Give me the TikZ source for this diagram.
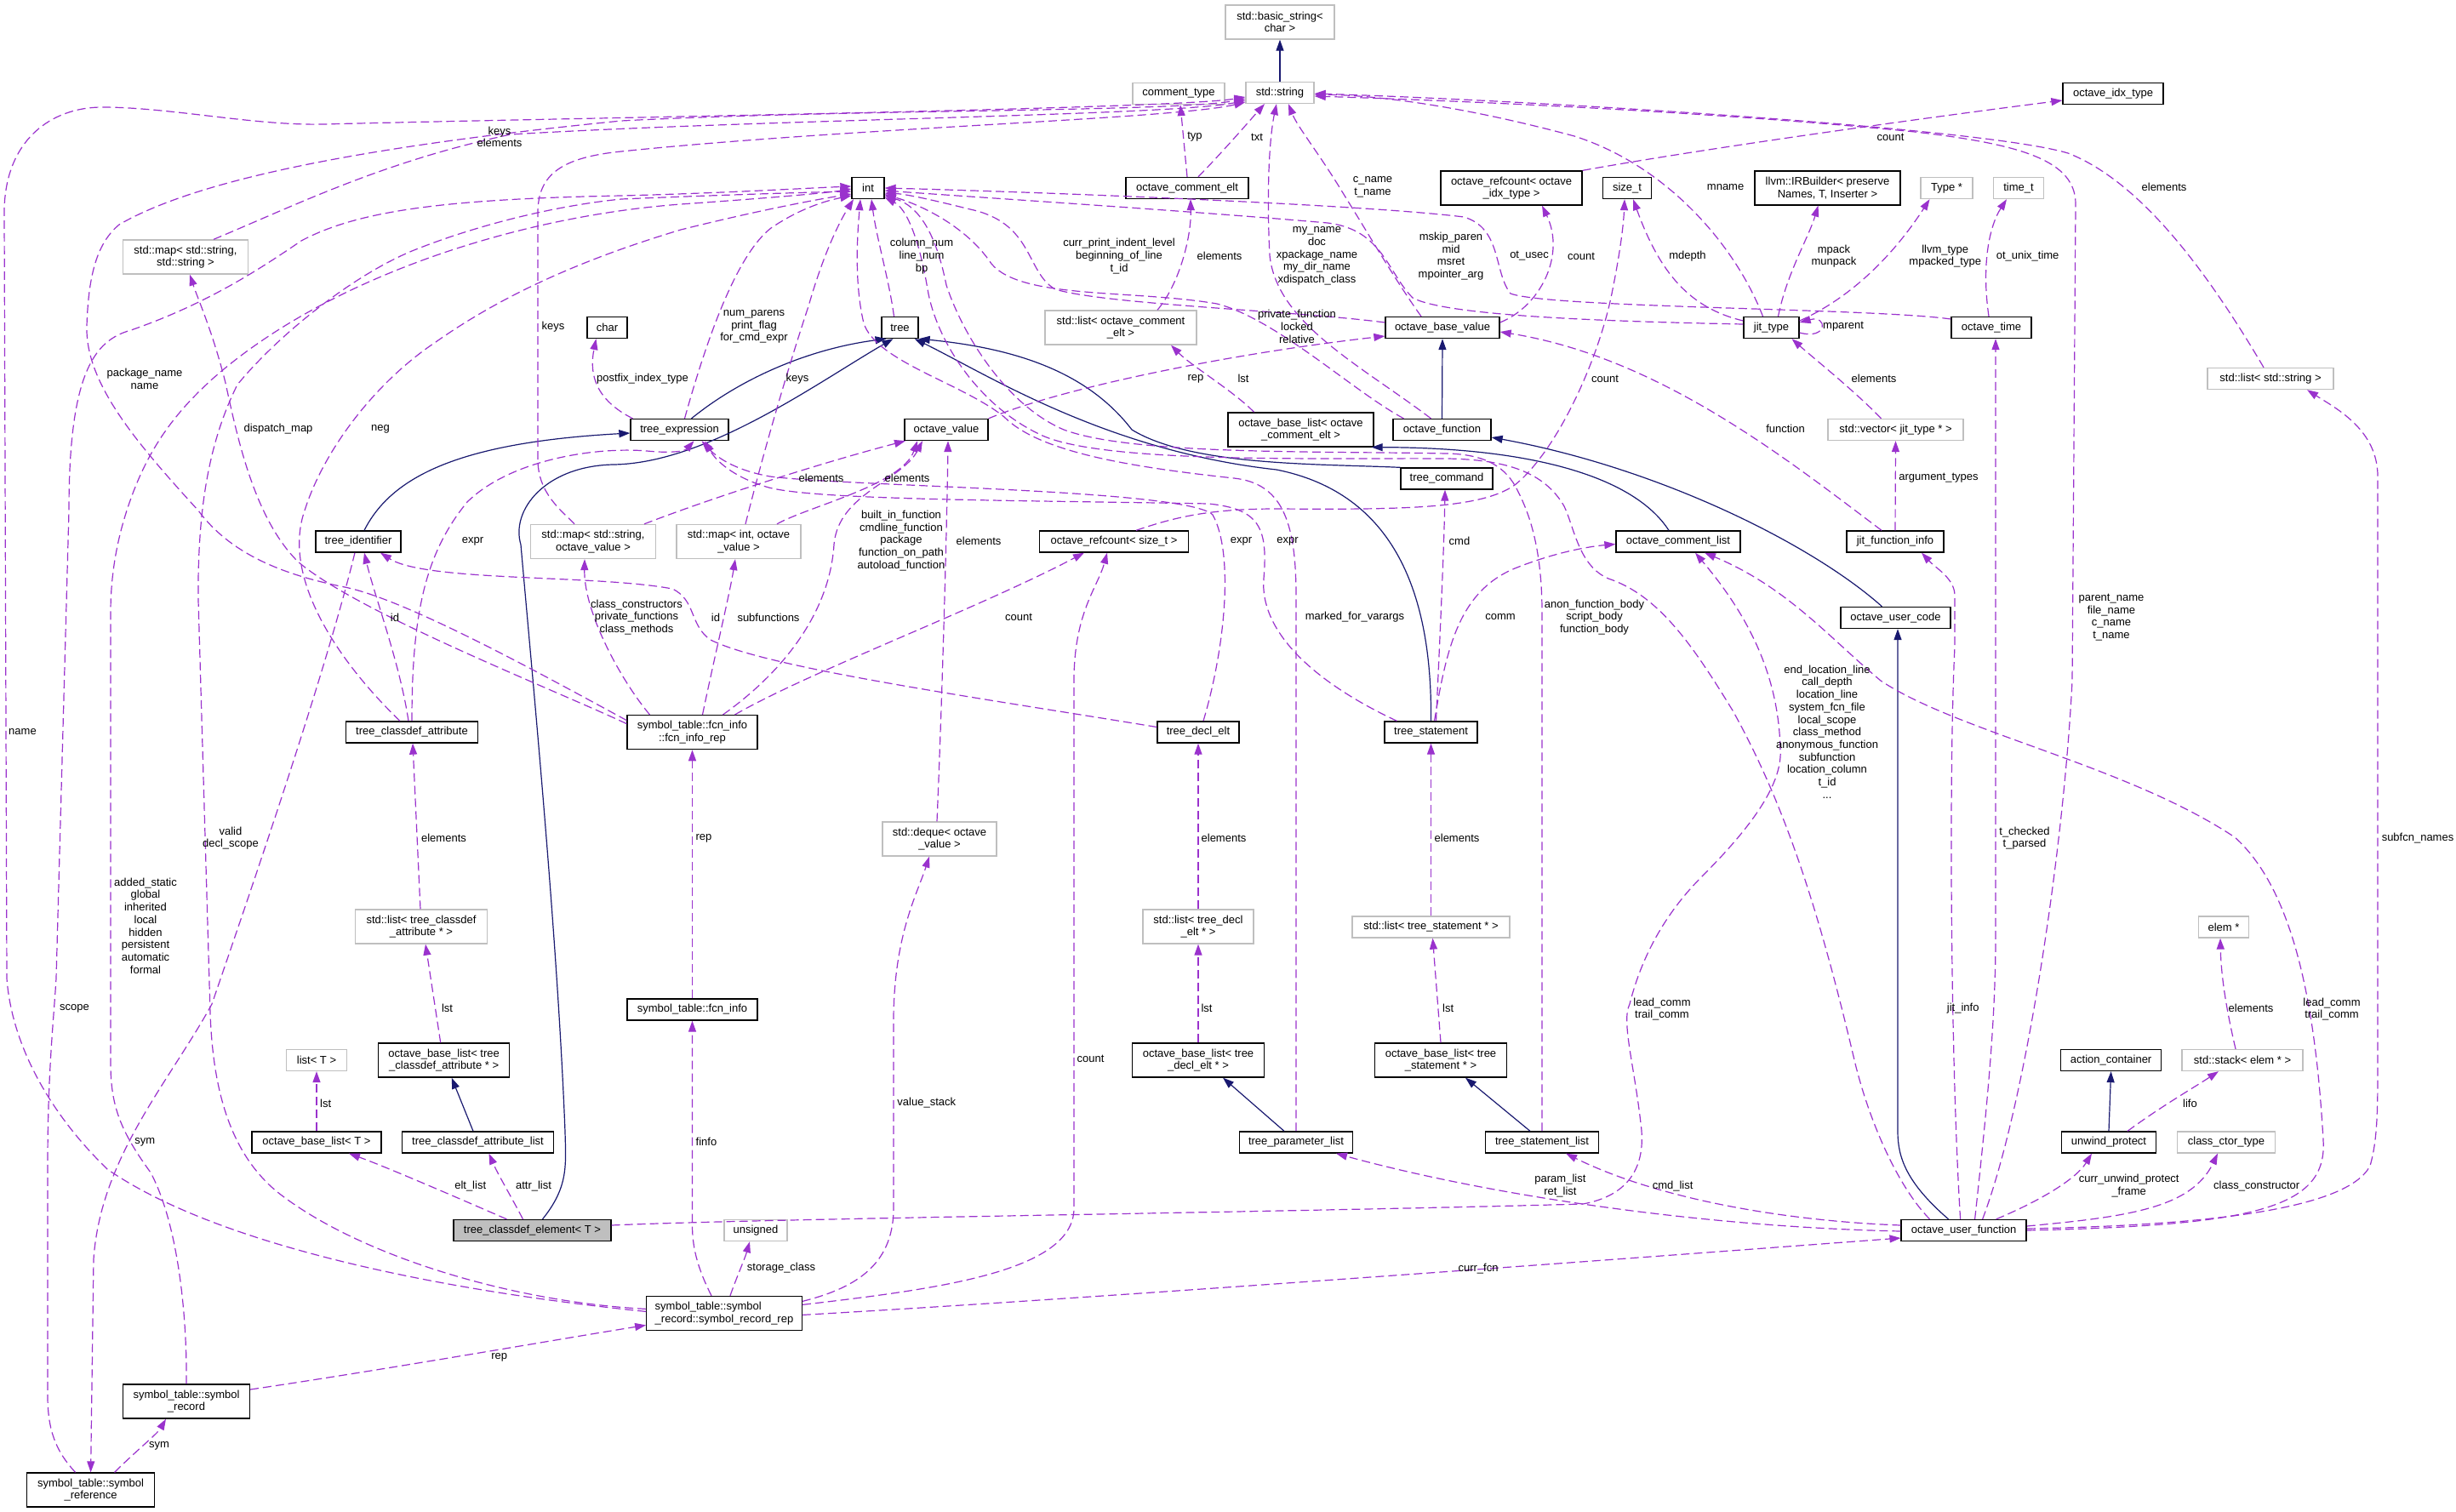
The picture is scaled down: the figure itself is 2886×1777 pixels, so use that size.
\documentclass[tikz,border=0pt]{standalone}
\usepackage{fontspec}
\setmainfont{Liberation Sans}
\usetikzlibrary{arrows.meta}
\definecolor{depc}{HTML}{9A32CD}
\definecolor{inhc}{HTML}{191970}
\definecolor{boxgray}{HTML}{BFBFBF}
\newcommand\dgfont{\fontsize{13}{14.7}\selectfont}
\tikzset{
  box/.style={draw=black, line width=1.3pt, rectangle, inner sep=0pt, minimum height=25pt, font=\dgfont, align=center, fill=white},
  gbox/.style={box, draw=boxgray},
  tall/.style={minimum height=40pt},
  dep/.style={draw=depc, line width=1.2pt, dash pattern=on 10pt off 5pt, -{Triangle[length=13pt,width=9pt]}},
  inh/.style={draw=inhc, line width=1.2pt, -{Triangle[length=13pt,width=9pt]}},
  lbl/.style={font=\dgfont, align=center, inner sep=0pt}
}
\begin{document}
\begin{tikzpicture}[x=1pt,y=-1pt]
\useasboundingbox[fill=white] (0,0) rectangle (2886,1777);
% ---------------- nodes ----------------
\node[gbox,tall,minimum width=128pt] (bstr) at (1504,26) {std::basic\_string<\\char >};
\node[gbox,minimum width=80pt] (str) at (1504,109) {std::string};
\node[gbox,minimum width=108pt] (ctype) at (1385,110) {comment\_type};
\node[box,minimum width=118pt] (oidx) at (2483,110) {octave\_idx\_type};
\node[gbox,tall,minimum width=147pt] (mapss) at (218,302) {std::map< std::string,\\std::string >};
\node[box,minimum width=38pt] (int) at (1020,221) {int};
\node[box,minimum width=144pt] (oce) at (1395,221) {octave\_comment\_elt};
\node[box,tall,minimum width=166pt] (orcidx) at (1776,221) {octave\_refcount< octave\\\_idx\_type >};
\node[box,minimum width=57pt] (sizet) at (1912,221) {size\_t};
\node[box,tall,minimum width=171pt] (llvm) at (2147.5,221) {llvm::IRBuilder< preserve\\Names, T, Inserter >};
\node[gbox,minimum width=61pt] (typep) at (2287.5,221) {Type *};
\node[gbox,minimum width=59pt] (timet) at (2372,221) {time\_t};
\node[box,minimum width=47pt] (char) at (713.5,385) {char};
\node[box,minimum width=43pt] (tree) at (1057.5,385) {tree};
\node[gbox,tall,minimum width=178pt] (lsoce) at (1317,385) {std::list< octave\_comment\\\_elt >};
\node[box,minimum width=134pt] (obv) at (1695,385) {octave\_base\_value};
\node[box,minimum width=65pt] (jit) at (2081.5,385) {jit\_type};
\node[box,minimum width=94pt] (otime) at (2340,385) {octave\_time};
\node[gbox,minimum width=148pt] (lsstr) at (2668,445) {std::list< std::string >};
\node[box,minimum width=115pt] (texpr) at (798.5,505) {tree\_expression};
\node[box,minimum width=98pt] (oval) at (1112,505) {octave\_value};
\node[box,tall,minimum width=171pt] (oblce) at (1528.5,505) {octave\_base\_list< octave\\\_comment\_elt >};
\node[box,minimum width=115pt] (ofun) at (1694.5,505) {octave\_function};
\node[gbox,minimum width=159pt] (vecjit) at (2227.5,505) {std::vector< jit\_type * >};
\node[box,minimum width=108pt] (tcmd) at (1700,562.5) {tree\_command};
\node[box,minimum width=100pt] (tid) at (421,636.5) {tree\_identifier};
\node[gbox,tall,minimum width=147pt] (mapsov) at (697,636.5) {std::map< std::string,\\octave\_value >};
\node[gbox,tall,minimum width=146pt] (mapiov) at (868,636.5) {std::map< int, octave\\\_value >};
\node[box,minimum width=175pt] (orcsz) at (1309,636.5) {octave\_refcount< size\_t >};
\node[box,minimum width=146pt] (ocl) at (1972,636.5) {octave\_comment\_list};
\node[box,minimum width=114pt] (jfi) at (2227,636.5) {jit\_function\_info};
\node[box,minimum width=129pt] (ouc) at (2227.5,726) {octave\_user\_code};
\node[box,minimum width=155pt] (tca) at (484,860.5) {tree\_classdef\_attribute};
\node[box,tall,minimum width=153pt] (fir) at (813.5,860.6) {symbol\_table::fcn\_info\\::fcn\_info\_rep};
\node[box,minimum width=96pt] (tde) at (1408,860.5) {tree\_decl\_elt};
\node[box,minimum width=109pt] (tst) at (1681.5,860.5) {tree\_statement};
\node[gbox,tall,minimum width=134pt] (deq) at (1104,986) {std::deque< octave\\\_value >};
\node[gbox,tall,minimum width=155pt] (lstca) at (495,1089) {std::list< tree\_classdef\\\_attribute * >};
\node[gbox,tall,minimum width=130pt] (lstde) at (1408,1089) {std::list< tree\_decl\\\_elt * >};
\node[gbox,minimum width=185pt] (lstst) at (1681.5,1089.5) {std::list< tree\_statement * >};
\node[gbox,minimum width=59pt] (elem) at (2613,1089.5) {elem *};
\node[box,minimum width=153pt] (fi) at (813.5,1186.5) {symbol\_table::fcn\_info};
\node[gbox,minimum width=71pt] (listT) at (372,1246) {list< T >};
\node[box,tall,minimum width=154pt] (obltca) at (521.7,1246) {octave\_base\_list< tree\\\_classdef\_attribute * >};
\node[box,tall,minimum width=155pt] (oblde) at (1408,1246) {octave\_base\_list< tree\\\_decl\_elt * >};
\node[box,tall,minimum width=155pt] (oblst) at (1693,1246) {octave\_base\_list< tree\\\_statement * >};
\node[box,minimum width=118pt] (acont) at (2480.6,1246) {action\_container};
\node[gbox,minimum width=142pt] (stk) at (2635,1246) {std::stack< elem * >};
\node[box,minimum width=152pt] (oblT) at (372,1342.5) {octave\_base\_list< T >};
\node[box,minimum width=178pt] (tcal) at (561.5,1342.5) {tree\_classdef\_attribute\_list};
\node[box,minimum width=133pt] (tpl) at (1523,1342.5) {tree\_parameter\_list};
\node[box,minimum width=133pt] (tsl) at (1812,1342.5) {tree\_statement\_list};
\node[box,minimum width=111pt] (uwp) at (2478,1342.5) {unwind\_protect};
\node[gbox,minimum width=115pt] (cct) at (2616,1342.5) {class\_ctor\_type};
\node[box,minimum width=185pt,fill=boxgray] (tce) at (625.5,1446) {tree\_classdef\_element< T >};
\node[gbox,minimum width=74pt] (uns) at (888,1446) {unsigned};
\node[box,minimum width=147pt] (ouf) at (2307.6,1446) {octave\_user\_function};
\node[box,tall,minimum width=182.5pt,align=left] (srr) at (851,1543.4) {symbol\_table::symbol\\\_record::symbol\_record\_rep};
\node[box,tall,minimum width=149pt] (sr) at (219,1647) {symbol\_table::symbol\\\_record};
\node[box,tall,minimum width=150pt] (sref) at (106.6,1751) {symbol\_table::symbol\\\_reference};
% ---------------- inheritance ----------------
\draw[inh] (str.north) -- (bstr.south);
\draw[inh] ([xshift=14pt]texpr.north) .. controls (870,445) and (950,410) .. ([xshift=-16pt]tree.south);
\draw[inh] ([xshift=7pt]tid.north) .. controls (460,560) and (540,520) .. ([yshift=-4pt]texpr.west);
\draw[inh] ([xshift=12pt]tce.north) .. controls (668,1395) and (665,1370) .. (664,1330) .. controls (655,1100) and (626,800) .. (612,640) .. controls (600,600) and (640,548) .. (720,546) .. controls (830,545) and (960,450) .. ([xshift=-8pt]tree.south);
\draw[inh] (tcmd.north west) .. controls (1550,545) and (1400,548) .. (1330,505) .. controls (1280,440) and (1200,410) .. (tree.south east);
\draw[inh] (tst.north) .. controls (1683,700) and (1640,580) .. (1500,552) .. controls (1300,530) and (1160,440) .. ([xshift=-5pt]tree.south east);
\draw[inh] ([xshift=-5.5pt]tcal.north) -- ([xshift=9pt]obltca.south);
\draw[inh] ([xshift=-14pt]tpl.north) -- ([xshift=29pt]oblde.south);
\draw[inh] ([xshift=-14pt]tsl.north) -- ([xshift=29pt]oblst.south);
\draw[inh] (ofun.north) -- (obv.south);
\draw[inh] ([xshift=-16pt]ouc.north) .. controls (2130,640) and (1950,550) .. ([yshift=-9pt]ofun.east);
\draw[inh] ([xshift=-11pt]ocl.north) .. controls (1920,560) and (1800,526) .. ([xshift=-3pt]oblce.south east);
\draw[inh] ([xshift=-18pt]ouf.north) .. controls (2240,1390) and (2230,1360) .. (2230,1330) -- ([xshift=2.5pt]ouc.south);
\draw[inh] (uwp.north) -- (acont.south);
% ---------------- usage ----------------
\draw[dep] (oce.north) -- ([xshift=2pt]ctype.south);
\draw[dep] ([xshift=13pt]oce.north) .. controls (1440,175) and (1470,140) .. ([xshift=-18pt]str.south);
\draw[dep] ([xshift=43pt]lsoce.north) .. controls (1385,335) and (1400,280) .. ([xshift=4pt]oce.south);
\draw[dep] ([xshift=-55pt]oblce.north) .. controls (1450,460) and (1400,430) .. ([xshift=59pt]lsoce.south);
\draw[dep] (oval.north east) .. controls (1250,455) and (1450,415) .. ([yshift=-10pt]obv.west);
\draw[dep] ([xshift=-13pt]ofun.north) .. controls (1600,430) and (1500,380) .. (1492,300) .. controls (1488,220) and (1492,160) .. ([xshift=-4pt]str.south);
\draw[dep] ([xshift=-25pt]obv.north) .. controls (1640,330) and (1605,270) .. (1580,230) .. controls (1550,180) and (1525,150) .. ([xshift=10pt]str.south);
\draw[dep] ([yshift=6pt]obv.east) .. controls (1810,360) and (1840,300) .. ([xshift=36pt]orcidx.south);
\draw[dep] (orcidx.north east) .. controls (2000,175) and (2250,140) .. ([yshift=-8pt]oidx.west);
\draw[dep] ([xshift=-3pt]otime.north) .. controls (2328,310) and (2338,265) .. ([xshift=-14pt]timet.south);
\draw[dep] ([yshift=10pt]otime.west) .. controls (2200,362) and (1820,362) .. (1775,345) .. controls (1755,320) and (1765,268) .. (1720,255) .. controls (1600,240) and (1200,225) .. (int.east);
\draw[dep] ([yshift=4pt]jit.west) .. controls (1900,378) and (1700,372) .. (1660,350) .. controls (1630,320) and (1625,270) .. (1560,262) .. controls (1400,248) and (1150,232) .. ([yshift=-3pt]int.east);
\draw[dep] ([yshift=8pt]jit.west) .. controls (1985,362) and (1950,320) .. ([xshift=7pt]sizet.south);
\draw[dep] ([xshift=-10pt]jit.north) .. controls (2040,290) and (1960,195) .. (1850,160) .. controls (1720,125) and (1620,112) .. ([yshift=-2pt]str.east);
\draw[dep] ([xshift=8pt]jit.north) .. controls (2100,320) and (2125,280) .. ([xshift=-11pt]llvm.south);
\draw[dep] ([yshift=8pt]jit.east) .. controls (2175,350) and (2225,300) .. ([xshift=-20pt]typep.south);
\draw[dep] ([yshift=-6pt]jit.east) .. controls (2148,400) and (2148,370) .. ([yshift=6pt]jit.east);
\draw[dep] ([xshift=-17pt]vecjit.north) .. controls (2180,460) and (2130,420) .. ([xshift=24pt]jit.south);
\draw[dep] (jfi.north) -- (vecjit.south);
\draw[dep] ([xshift=-16pt]jfi.north) .. controls (2100,540) and (1950,420) .. ([yshift=-5pt]obv.east);
\draw[dep] ([xshift=-4pt]ouf.north) .. controls (2292,1250) and (2290,900) .. (2297,760) -- (2297,700) .. controls (2297,680) and (2275,668) .. ([xshift=31pt]jfi.south);
\draw[dep] ([xshift=13pt]ouf.north) .. controls (2335,1300) and (2345,1200) .. (2345,1100) -- ([xshift=5pt]otime.south);
\draw[dep] ([xshift=22pt]ouf.north) .. controls (2380,1300) and (2425,1000) .. (2435,800) -- (2439,240) .. controls (2439,190) and (2380,170) .. (2250,155) .. controls (2000,130) and (1700,118) .. ([yshift=-4pt]str.east);
\draw[dep] ([yshift=2pt]ouf.east) .. controls (2600,1440) and (2760,1420) .. (2785,1370) .. controls (2794,1340) and (2794,1300) .. (2794,1250) -- (2794,560) .. controls (2794,505) and (2745,480) .. ([xshift=43pt]lsstr.south);
\draw[dep] ([xshift=-8pt]lsstr.north) .. controls (2600,330) and (2520,215) .. (2430,180) .. controls (2330,150) and (1800,118) .. ([yshift=-1pt]str.east);
\draw[dep] ([xshift=22pt]uwp.north) .. controls (2540,1300) and (2575,1280) .. ([xshift=-28pt]stk.south);
\draw[dep] ([xshift=-8pt]stk.north) .. controls (2617,1190) and (2610,1150) .. ([xshift=-4pt]elem.south);
\draw[dep] ([xshift=38pt]ouf.north) .. controls (2400,1410) and (2440,1385) .. ([xshift=-20pt]uwp.south);
\draw[dep] ([yshift=5pt]ouf.east) .. controls (2500,1430) and (2575,1420) .. ([xshift=-10pt]cct.south);
\draw[dep] (ouf.east) .. controls (2650,1440) and (2735,1420) .. (2730,1340) .. controls (2722,1200) and (2700,1050) .. (2626,984) .. controls (2500,900) and (2300,860) .. (2210,800) .. controls (2150,750) and (2100,690) .. ([xshift=31pt]ocl.south);
\draw[dep] ([yshift=6pt]tce.east) .. controls (900,1432) and (1500,1425) .. (1860,1415) .. controls (1915,1405) and (1935,1370) .. (1928,1320) .. controls (1920,1250) and (1905,1200) .. (1915,1180) .. controls (1930,1120) and (1960,1070) .. (2000,1030) .. controls (2060,970) and (2095,920) .. (2092,880) .. controls (2090,800) and (2060,730) .. ([xshift=20pt]ocl.south);
\draw[dep] ([xshift=4pt]tst.north) .. controls (1700,760) and (1715,695) .. (1780,668) .. controls (1830,648) and (1870,642) .. ([yshift=-3pt]ocl.west);
\draw[dep] ([xshift=6pt]tst.north) .. controls (1692,750) and (1697,640) .. ([xshift=-2pt]tcmd.south);
\draw[dep] ([xshift=-40pt]tst.north) .. controls (1540,800) and (1480,740) .. (1485,680) .. controls (1490,620) and (1480,598) .. (1420,592) .. controls (1200,588) and (950,588) .. (900,572) .. controls (860,560) and (840,540) .. ([xshift=30pt]texpr.south);
\draw[dep] ([xshift=6pt]tde.north) .. controls (1440,760) and (1450,650) .. (1425,605) .. controls (1395,575) and (1000,572) .. (905,560) .. controls (860,552) and (840,535) .. ([xshift=26pt]texpr.south);
\draw[dep] ([yshift=6pt]tde.west) .. controls (1150,820) and (900,785) .. (835,752) .. controls (810,735) and (818,705) .. (790,692) .. controls (700,675) and (500,684) .. ([xshift=26pt]tid.south);
\draw[dep] (lstde.north) -- (tde.south);
\draw[dep] (oblde.north) -- (lstde.south);
\draw[dep] (lstst.north) -- (tst.south);
\draw[dep] (oblst.north) -- ([xshift=2pt]lstst.south);
\draw[dep] ([yshift=6pt]ouf.west) .. controls (2100,1435) and (1950,1410) .. ([xshift=28pt]tsl.south);
\draw[dep] ([yshift=-1pt]ouf.west) .. controls (2000,1442) and (1750,1405) .. ([xshift=47pt]tpl.south);
\draw[dep] (tpl.north) -- (1523,700) .. controls (1523,610) and (1505,568) .. (1450,562) .. controls (1320,548) and (1220,530) .. (1180,490) .. controls (1130,450) and (1030,425) .. (1015,380) .. controls (1003,330) and (1008,270) .. ([xshift=-9pt]int.south);
\draw[dep] (tsl.north) -- (1812,720) .. controls (1812,640) and (1795,600) .. (1784,578) .. controls (1770,548) and (1745,534) .. (1700,533) .. controls (1550,530) and (1330,535) .. (1250,505) .. controls (1180,475) and (1130,390) .. (1112,335) .. controls (1100,275) and (1080,242) .. ([yshift=-9pt]int.east);
\draw[dep] ([yshift=6pt]obv.west) .. controls (1520,365) and (1300,358) .. (1240,340) .. controls (1205,320) and (1215,262) .. (1140,246) .. controls (1100,236) and (1065,228) .. ([yshift=-6pt]int.east);
\draw[dep] ([xshift=-45pt]ofun.north) .. controls (1590,460) and (1500,375) .. (1430,357) .. controls (1330,340) and (1200,352) .. (1165,310) .. controls (1135,265) and (1080,240) .. ([yshift=-7.5pt]int.east);
\draw[dep] ([xshift=-40pt]ouf.north) .. controls (2235,1400) and (2200,1330) .. (2180,1250) .. controls (2140,1080) and (2100,950) .. (2036,835) .. controls (1990,760) and (1950,700) .. (1890,680) .. controls (1855,665) and (1850,620) .. (1838,595) .. controls (1815,555) and (1770,540) .. (1700,539) .. controls (1550,538) and (1300,545) .. (1225,512) .. controls (1150,478) and (1100,400) .. (1090,340) .. controls (1080,280) and (1065,245) .. ([yshift=-11pt]int.east);
\draw[dep] ([xshift=-7pt]tree.north) .. controls (1045,330) and (1030,280) .. ([xshift=4pt]int.south);
\draw[dep] ([xshift=6pt]texpr.north) .. controls (830,400) and (865,300) .. (906,268) .. controls (940,245) and (970,236) .. ([yshift=-9pt]int.west);
\draw[dep] ([xshift=-55pt]texpr.north) .. controls (700,470) and (692,440) .. ([xshift=-13pt]char.south);
\draw[dep] ([xshift=8pt]mapiov.north) .. controls (900,520) and (930,420) .. (950,360) .. controls (970,290) and (990,255) .. ([xshift=-17pt]int.south);
\draw[dep] ([xshift=-22pt]mapsov.north) .. controls (660,600) and (632,580) .. (632,540) -- (632,250) .. controls (632,205) and (660,185) .. (730,178) .. controls (1000,150) and (1380,140) .. ([yshift=-11pt]str.west);
\draw[dep] ([xshift=33pt]mapss.north) .. controls (350,240) and (450,190) .. (600,158) .. controls (900,140) and (1380,136) .. ([yshift=-9pt]str.west);
\draw[dep] ([yshift=2pt]srr.west) .. controls (500,1515) and (250,1460) .. (126,1374) .. controls (60,1310) and (14,1230) .. (8,1150) -- (5,250) .. controls (5,165) and (60,126) .. (120,126) .. controls (200,126) and (300,148) .. (380,146) .. controls (700,138) and (1380,128) .. ([yshift=-5pt]str.west);
\draw[dep] ([yshift=14pt]fir.west) .. controls (650,800) and (480,705) .. (405,690) .. controls (330,675) and (270,650) .. (233,600) .. controls (160,520) and (100,450) .. (102,383) .. controls (104,320) and (115,285) .. (140,264) .. controls (250,200) and (500,165) .. (730,142) .. controls (1000,128) and (1380,132) .. ([yshift=-7pt]str.west);
\draw[dep] ([yshift=10pt]fir.west) .. controls (650,810) and (420,720) .. (350,660) .. controls (300,610) and (280,520) .. (265,450) .. controls (250,390) and (232,350) .. ([xshift=5pt]mapss.south);
\draw[dep] ([xshift=-50pt]fir.north) .. controls (730,800) and (686,720) .. ([xshift=-10pt]mapsov.south);
\draw[dep] ([xshift=12pt]fir.north) .. controls (840,770) and (857,700) .. ([xshift=-4pt]mapiov.south);
\draw[dep] ([xshift=36pt]fir.north) .. controls (920,790) and (975,720) .. (980,640) .. controls (985,580) and (1060,565) .. ([xshift=-28pt]oval.south);
\draw[dep] ([xshift=60pt]mapsov.north) .. controls (850,580) and (980,540) .. ([xshift=-48pt]oval.south);
\draw[dep] ([xshift=45pt]mapiov.north) .. controls (950,595) and (1060,570) .. ([xshift=-34pt]oval.south);
\draw[dep] ([xshift=-3pt]deq.north) .. controls (1108,800) and (1113,600) .. ([xshift=2pt]oval.south);
\draw[dep] ([xshift=50pt]fir.north) .. controls (950,790) and (1150,715) .. ([xshift=-35pt]orcsz.south);
\draw[dep] ([xshift=26pt]orcsz.north) .. controls (1380,608) and (1420,598) .. (1500,598) .. controls (1650,599) and (1740,598) .. (1780,570) .. controls (1830,530) and (1880,420) .. (1895,340) .. controls (1905,290) and (1908,260) .. ([xshift=-3pt]sizet.south);
\draw[dep] ([yshift=10pt]srr.east) .. controls (1100,1515) and (1262,1495) .. (1262,1420) -- (1262,800) .. controls (1262,720) and (1290,690) .. ([xshift=-8pt]orcsz.south);
\draw[dep] ([yshift=14pt]srr.east) .. controls (1000,1515) and (1050,1490) .. (1050,1420) -- (1050,1200) .. controls (1050,1100) and (1078,1050) .. ([xshift=-12pt]deq.south);
\draw[dep] ([xshift=7pt]srr.north) .. controls (866,1500) and (875,1480) .. ([xshift=-7pt]uns.south);
\draw[dep] ([xshift=-15pt]srr.north) .. controls (822,1495) and (813.5,1470) .. (813.5,1440) -- (fi.south);
\draw[dep] (fi.north) -- (fir.south);
\draw[dep] ([yshift=-2pt]srr.east) .. controls (1300,1525) and (1900,1480) .. ([yshift=-9pt]ouf.west);
\draw[dep] ([yshift=14pt]sr.east) .. controls (450,1610) and (650,1575) .. ([yshift=-14pt]srr.west);
\draw[dep] ([xshift=28pt]sref.north) .. controls (160,1705) and (185,1685) .. ([xshift=-24pt]sr.south);
\draw[dep] ([xshift=-4pt]tid.south) .. controls (380,800) and (290,1060) .. (249,1180) .. controls (200,1270) and (118,1360) .. (110,1480) -- (sref.north);
\draw[dep] ([xshift=-18pt]sref.north) .. controls (65,1705) and (56,1680) .. (56,1640) -- (56,1370) .. controls (56,1260) and (63,1200) .. (66,1150) -- (81,600) .. controls (81,440) and (110,400) .. (154,388) .. controls (240,358) and (300,320) .. (354,283) .. controls (420,248) and (520,234) .. (730,230) .. controls (850,227) and (950,221) .. ([yshift=2pt]int.west);
\draw[dep] (sr.north) .. controls (220,1550) and (210,1440) .. (177,1378) .. controls (142,1330) and (130,1300) .. (130,1250) -- (130,720) .. controls (130,680) and (136,640) .. (149,600) .. controls (170,535) and (200,490) .. (250,445) .. controls (380,330) and (600,255) .. (800,240) .. controls (900,233) and (970,227) .. ([yshift=-1pt]int.west);
\draw[dep] ([yshift=5pt]srr.west) .. controls (600,1530) and (420,1475) .. (326,1401) .. controls (270,1355) and (250,1280) .. (247,1190) -- (233,705) .. controls (232,600) and (245,520) .. (279,452) .. controls (330,390) and (420,320) .. (489,293) .. controls (560,265) and (650,242) .. (730,234) .. controls (850,229) and (950,226) .. ([yshift=-4pt]int.west);
\draw[dep] ([xshift=-14pt]tca.north) .. controls (400,780) and (330,680) .. (358,600) .. controls (380,530) and (440,450) .. (512,402) .. controls (600,340) and (700,300) .. (800,270) .. controls (880,250) and (950,236) .. ([yshift=-7pt]int.west);
\draw[dep] ([xshift=-4pt]tca.north) .. controls (470,780) and (440,700) .. ([xshift=7pt]tid.south);
\draw[dep] (tca.north) .. controls (484,720) and (500,650) .. (549,590) .. controls (600,540) and (700,525) .. (760,530) .. controls (790,533) and (805,530) .. ([xshift=17pt]texpr.south);
\draw[dep] ([xshift=-1pt]lstca.north) -- ([xshift=1pt]tca.south);
\draw[dep] ([xshift=-4pt]obltca.north) -- ([xshift=5pt]lstca.south);
\draw[dep] (oblT.north) -- (listT.south);
\draw[dep] ([xshift=-30pt]tce.north) .. controls (520,1400) and (450,1370) .. ([xshift=38pt]oblT.south);
\draw[dep] ([xshift=-11pt]tce.north) .. controls (600,1405) and (585,1380) .. ([xshift=13pt]tcal.south);
% ---------------- labels ----------------
\node[lbl] (l1) at (1404,161) {typ};
\node[lbl] (l2) at (1477,161) {txt};
\node[lbl] (l3) at (1433,301) {elements};
\node[lbl] (l4) at (1461,445) {lst};
\node[lbl] (l5) at (1405,445) {rep};
\node[lbl] (l6) at (1547.5,301) {my\_name\\doc\\xpackage\_name\\my\_dir\_name\\xdispatch\_class};
\node[lbl] (l7) at (1613,220) {c\_name\\t\_name};
\node[lbl] (l8) at (1858,301) {count};
\node[lbl] (l9) at (2221.5,161) {count};
\node[lbl] (l10) at (2382.6,301) {ot\_unix\_time};
\node[lbl] (l11) at (1797,301) {ot\_usec};
\node[lbl] (l12) at (1705,301) {mskip\_paren\\mid\\msret\\mpointer\_arg};
\node[lbl] (l13) at (1983,301) {mdepth};
\node[lbl] (l14) at (2027.6,220) {mname};
\node[lbl] (l15) at (2155,301) {mpack\\munpack};
\node[lbl] (l16) at (2285.7,301) {llvm\_type\\mpacked\_type};
\node[lbl] (l17) at (2166,384) {mparent};
\node[lbl] (l18) at (2202,445) {elements};
\node[lbl] (l19) at (2278,562) {argument\_types};
\node[lbl] (l20) at (2098,504) {function};
\node[lbl] (l21) at (2306.7,1185) {jit\_info};
\node[lbl] (l22) at (2379,985) {t\_checked\\t\_parsed};
\node[lbl] (l23) at (2481,725.5) {parent\_name\\file\_name\\c\_name\\t\_name};
\node[lbl] (l24) at (2841,985) {subfcn\_names};
\node[lbl] (l25) at (2543,220) {elements};
\node[lbl] (l26) at (2573.5,1296.5) {lifo};
\node[lbl] (l27) at (2645,1185) {elements};
\node[lbl] (l28) at (2501.7,1393.7) {curr\_unwind\_protect\\\_frame};
\node[lbl] (l29) at (2651.7,1393.6) {class\_constructor};
\node[lbl] (l30) at (2740,1186) {lead\_comm\\trail\_comm};
\node[lbl] (l31) at (1953,1186) {lead\_comm\\trail\_comm};
\node[lbl] (l32) at (1763,725.5) {comm};
\node[lbl] (l33) at (1715,636) {cmd};
\node[lbl] (l34) at (1513,636) {expr};
\node[lbl] (l35) at (1458.6,636) {expr};
\node[lbl] (l36) at (841,725.5) {id};
\node[lbl] (l37) at (1438,985) {elements};
\node[lbl] (l38) at (1418,1185) {lst};
\node[lbl] (l39) at (1712,985) {elements};
\node[lbl] (l40) at (1701.7,1185) {lst};
\node[lbl] (l41) at (1965.6,1393.6) {cmd\_list};
\node[lbl] (l42) at (1833.4,1393.5) {param\_list\\ret\_list};
\node[lbl] (l43) at (1592,725.5) {marked\_for\_varargs};
\node[lbl] (l44) at (1873.5,725.5) {anon\_function\_body\\script\_body\\function\_body};
\node[lbl] (l45) at (2147,860) {end\_location\_line\\call\_depth\\location\_line\\system\_fcn\_file\\local\_scope\\class\_method\\anonymous\_function\\subfunction\\location\_column\\t\_id\\...};
\node[lbl] (l46) at (1315,301) {curr\_print\_indent\_level\\beginning\_of\_line\\t\_id};
\node[lbl] (l47) at (1524,384) {private\_function\\locked\\relative};
\node[lbl] (l48) at (1083,301) {column\_num\\line\_num\\bp};
\node[lbl] (l49) at (886,384) {num\_parens\\print\_flag\\for\_cmd\_expr};
\node[lbl] (l50) at (755,445) {postfix\_index\_type};
\node[lbl] (l51) at (937,445) {keys};
\node[lbl] (l52) at (650,384) {keys};
\node[lbl] (l53) at (587,161) {keys\\elements};
\node[lbl] (l54) at (26.5,860) {name};
\node[lbl] (l55) at (170,445) {package\_name\\name};
\node[lbl] (l56) at (327,504) {dispatch\_map};
\node[lbl] (l57) at (748,725.5) {class\_constructors\\private\_functions\\class\_methods};
\node[lbl] (l58) at (903,725.5) {subfunctions};
\node[lbl] (l59) at (1059,635.5) {built\_in\_function\\cmdline\_function\\package\\function\_on\_path\\autoload\_function};
\node[lbl] (l60) at (965,562) {elements};
\node[lbl] (l61) at (1066,562) {elements};
\node[lbl] (l62) at (1150,636) {elements};
\node[lbl] (l63) at (1197,725.5) {count};
\node[lbl] (l64) at (1886,445) {count};
\node[lbl] (l65) at (1281.5,1244.7) {count};
\node[lbl] (l66) at (1088.8,1296.5) {value\_stack};
\node[lbl] (l67) at (918,1490.6) {storage\_class};
\node[lbl] (l68) at (830,1341.8) {finfo};
\node[lbl] (l69) at (827,985) {rep};
\node[lbl] (l70) at (1737,1490.6) {curr\_fcn};
\node[lbl] (l71) at (586.7,1595) {rep};
\node[lbl] (l72) at (187,1699) {sym};
\node[lbl] (l73) at (170.4,1342) {sym};
\node[lbl] (l74) at (87.5,1185) {scope};
\node[lbl] (l75) at (171,1088) {added\_static\\global\\inherited\\local\\hidden\\persistent\\automatic\\formal};
\node[lbl] (l76) at (271,985) {valid\\decl\_scope};
\node[lbl] (l77) at (447,504) {neg};
\node[lbl] (l78) at (464,725.5) {id};
\node[lbl] (l79) at (555.5,636) {expr};
\node[lbl] (l80) at (521.5,985) {elements};
\node[lbl] (l81) at (525.6,1185) {lst};
\node[lbl] (l82) at (382.7,1296.5) {lst};
\node[lbl] (l83) at (552.7,1393.6) {elt\_list};
\node[lbl] (l84) at (627,1393.6) {attr\_list};
\end{tikzpicture}
\end{document}
